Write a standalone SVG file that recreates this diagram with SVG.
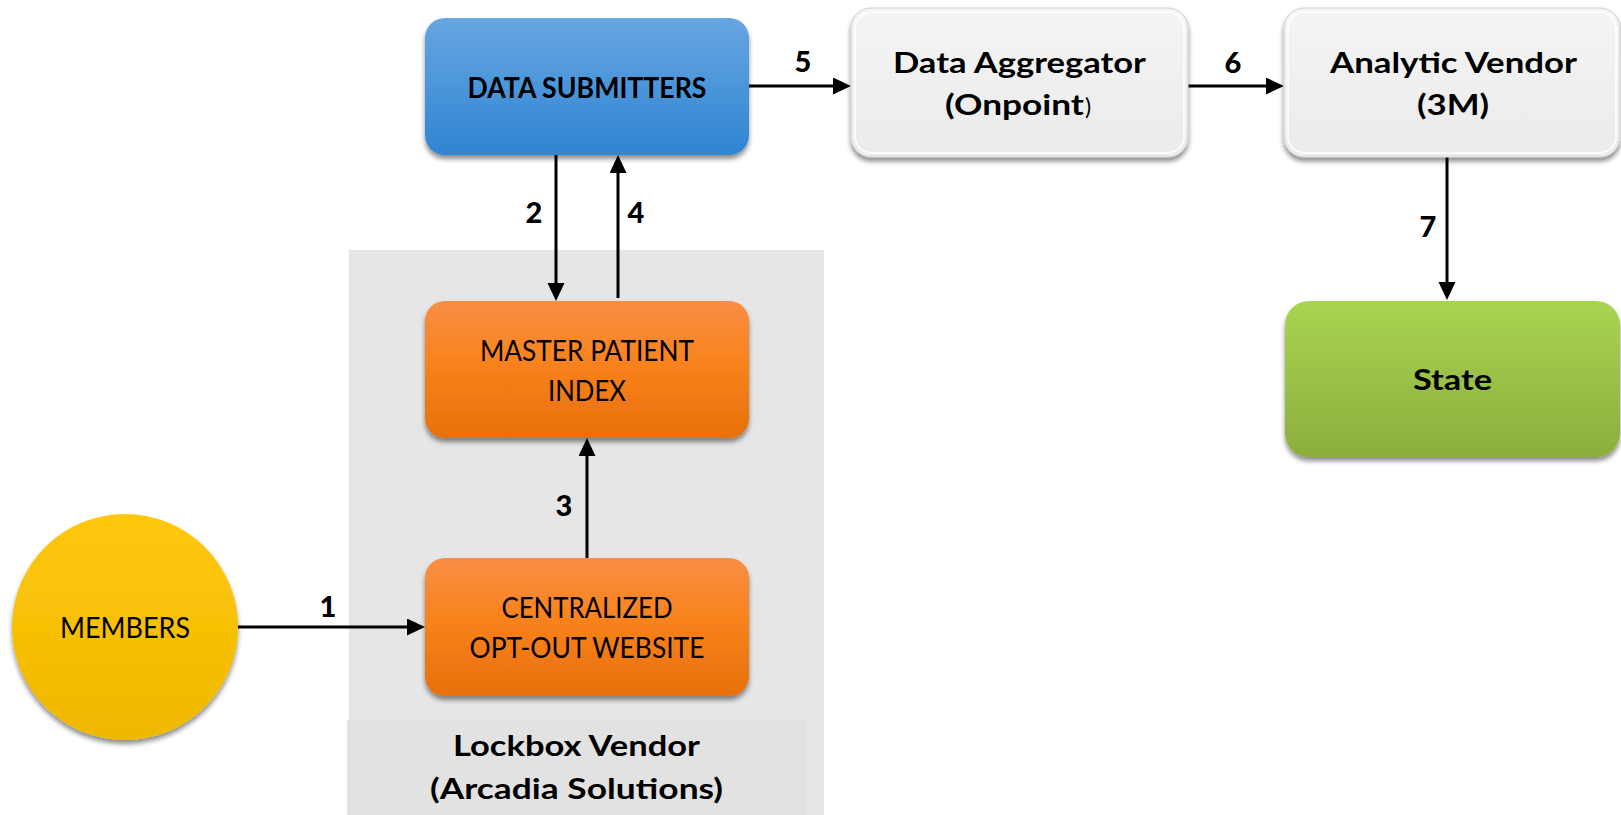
<svg xmlns="http://www.w3.org/2000/svg" width="1621" height="815" viewBox="0 0 1621 815">
  <style>
    .lbl { font-family: Lato, "Open Sans", "Liberation Sans", sans-serif; fill: #000; text-anchor: middle; }
    .b { font-weight: bold; }
    .r { font-weight: normal; }
    .num { font-family: Lato, "Open Sans", "Liberation Sans", sans-serif; font-weight: 900; font-size: 29px; text-anchor: middle; fill: #000; }
    .conn { stroke: #000; stroke-width: 3; fill: none; marker-end: url(#arrow); }
  </style>
  <defs>
    <marker id="arrow" markerUnits="userSpaceOnUse" markerWidth="18" markerHeight="18" refX="10" refY="8.5" orient="auto">
      <path d="M0,0 L18,8.5 L0,17 z" fill="#000"/>
    </marker>
    <filter id="shadow" x="-10%" y="-10%" width="120%" height="130%">
      <feGaussianBlur in="SourceAlpha" stdDeviation="2.5"/>
      <feOffset dx="0" dy="4" result="off"/>
      <feComponentTransfer><feFuncA type="linear" slope="0.45"/></feComponentTransfer>
      <feMerge><feMergeNode/><feMergeNode in="SourceGraphic"/></feMerge>
    </filter>
    <linearGradient id="gBlue" x1="0" y1="0" x2="0" y2="1">
      <stop offset="0" stop-color="#67a6e1"/>
      <stop offset="1" stop-color="#2f85d2"/>
    </linearGradient>
    <linearGradient id="gOrange" x1="0" y1="0" x2="0" y2="1">
      <stop offset="0" stop-color="#f98e45"/>
      <stop offset="0.45" stop-color="#f8821c"/>
      <stop offset="1" stop-color="#e8700c"/>
    </linearGradient>
    <linearGradient id="gGray" x1="0" y1="0" x2="0" y2="1">
      <stop offset="0" stop-color="#f4f4f4"/>
      <stop offset="1" stop-color="#ebebeb"/>
    </linearGradient>
    <linearGradient id="gGreen" x1="0" y1="0" x2="0" y2="1">
      <stop offset="0" stop-color="#a9d451"/>
      <stop offset="1" stop-color="#8cae3d"/>
    </linearGradient>
    <linearGradient id="gYellow" x1="0" y1="0" x2="0" y2="1">
      <stop offset="0" stop-color="#ffc80c"/>
      <stop offset="1" stop-color="#efb800"/>
    </linearGradient>
  </defs>

  <rect width="1621" height="815" fill="#ffffff"/>

  <!-- Lockbox vendor container -->
  <g id="lockbox">
    <rect x="349" y="250" width="475" height="565" fill="#e6e6e6"/>
    <rect x="347" y="720" width="460" height="95" fill="#e2e2e2"/>
    <text class="lbl b" x="576.5" y="756" font-size="29" textLength="247" lengthAdjust="spacingAndGlyphs">Lockbox Vendor</text>
    <text class="lbl b" x="576.5" y="799" font-size="29" textLength="293" lengthAdjust="spacingAndGlyphs">(Arcadia Solutions)</text>
  </g>

  <!-- Connectors -->
  <g id="connectors">
    <line class="conn" x1="238" y1="627" x2="417" y2="627"/>
    <line class="conn" x1="556" y1="155" x2="556" y2="293"/>
    <line class="conn" x1="587" y1="558" x2="587" y2="446"/>
    <line class="conn" x1="618" y1="298" x2="618" y2="163"/>
    <line class="conn" x1="749" y1="86" x2="843" y2="86"/>
    <line class="conn" x1="1188" y1="86" x2="1276" y2="86"/>
    <line class="conn" x1="1447" y1="157" x2="1447" y2="292"/>
    <text class="num" x="328" y="617">1</text>
    <text class="num" x="534" y="223">2</text>
    <text class="num" x="564" y="516">3</text>
    <text class="num" x="636" y="223">4</text>
    <text class="num" x="803" y="72">5</text>
    <text class="num" x="1233" y="73">6</text>
    <text class="num" x="1428" y="237">7</text>
  </g>

  <g id="members">
    <circle cx="125" cy="627" r="113" fill="url(#gYellow)" filter="url(#shadow)"/>
    <text class="lbl r" x="125" y="638" font-size="29" textLength="130" lengthAdjust="spacingAndGlyphs">MEMBERS</text>
  </g>

  <g id="data-submitters">
    <rect x="425" y="18" width="324" height="137" rx="20" fill="url(#gBlue)" filter="url(#shadow)"/>
    <text class="lbl b" x="587" y="98" font-size="29" textLength="239" lengthAdjust="spacingAndGlyphs">DATA SUBMITTERS</text>
  </g>

  <g id="master-patient-index">
    <rect x="425" y="301" width="324" height="137" rx="20" fill="url(#gOrange)" filter="url(#shadow)"/>
    <text class="lbl r" x="587" y="361" font-size="29" textLength="214" lengthAdjust="spacingAndGlyphs">MASTER PATIENT</text>
    <text class="lbl r" x="587" y="401" font-size="29" textLength="78" lengthAdjust="spacingAndGlyphs">INDEX</text>
  </g>

  <g id="opt-out-website">
    <rect x="425" y="558" width="324" height="138" rx="20" fill="url(#gOrange)" filter="url(#shadow)"/>
    <text class="lbl r" x="587" y="618" font-size="29" textLength="171" lengthAdjust="spacingAndGlyphs">CENTRALIZED</text>
    <text class="lbl r" x="587" y="658" font-size="29" textLength="235" lengthAdjust="spacingAndGlyphs">OPT-OUT WEBSITE</text>
  </g>

  <g id="data-aggregator">
    <rect x="851" y="8" width="337" height="149" rx="20" fill="url(#gGray)" stroke="#cfcfcf" stroke-width="1" filter="url(#shadow)"/>
    <rect x="855" y="12" width="329" height="141" rx="17" fill="none" stroke="#ffffff" stroke-opacity="0.8" stroke-width="2"/>
    <text class="lbl b" x="1019.5" y="73" font-size="29" textLength="253" lengthAdjust="spacingAndGlyphs">Data Aggregator</text>
    <text class="lbl b" x="945" y="115" font-size="29" style="text-anchor:start"><tspan textLength="139" lengthAdjust="spacingAndGlyphs">(Onpoint</tspan><tspan x="1085" font-size="23" font-weight="normal">)</tspan></text>
  </g>

  <g id="analytic-vendor">
    <rect x="1284" y="8" width="336" height="149" rx="20" fill="url(#gGray)" stroke="#cfcfcf" stroke-width="1" filter="url(#shadow)"/>
    <rect x="1288" y="12" width="328" height="141" rx="17" fill="none" stroke="#ffffff" stroke-opacity="0.8" stroke-width="2"/>
    <text class="lbl b" x="1453.5" y="73" font-size="29" textLength="247" lengthAdjust="spacingAndGlyphs">Analytic Vendor</text>
    <text class="lbl b" x="1453" y="115" font-size="29" textLength="72" lengthAdjust="spacingAndGlyphs">(3M)</text>
  </g>

  <g id="state">
    <rect x="1285" y="301" width="335" height="156" rx="24" fill="url(#gGreen)" filter="url(#shadow)"/>
    <text class="lbl b" x="1452.5" y="390" font-size="29" textLength="79" lengthAdjust="spacingAndGlyphs">State</text>
  </g>
</svg>
